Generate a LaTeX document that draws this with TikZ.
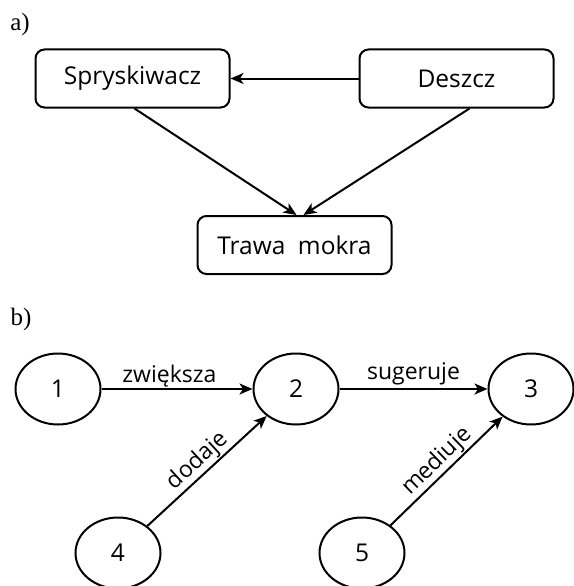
\documentclass[tikz,border=0pt]{standalone}
\usepackage{fontspec}
\setmainfont{Open Sans}
\newfontfamily\serifpart{Liberation Serif}
\usetikzlibrary{arrows.meta,shapes.geometric}
\begin{document}
\begin{tikzpicture}[x=1pt,y=-1pt,
  box/.style={draw,line width=2pt,rounded corners=9pt,minimum width=194pt,minimum height=58pt,inner sep=0pt,font=\fontsize{24.5}{26}\selectfont},
  ell/.style={draw,ellipse,line width=2pt,minimum width=85pt,minimum height=71pt,inner sep=0pt,font=\fontsize{24.5}{26}\selectfont},
  arr/.style={line width=2pt,-{Stealth[length=13pt,width=11pt,inset=3.5pt]}},
  lbl/.style={font=\fontsize{23}{25}\selectfont},
  part/.style={font=\serifpart\fontsize{25}{27}\selectfont}]
\useasboundingbox (0,0) rectangle (573,586);
\node[part] (pa) at (20,24) {a)};
\node[part] (pb) at (21,319) {b)};
\node[box] (spr) at (132.5,78.5) {Spryskiwacz};
\node[box] (desz) at (456.5,78.5) {Deszcz};
\node[box] (traw) at (294.5,245) {Trawa\hspace{0.25em} mokra};
\draw[arr] (desz) -- (spr);
\draw[arr] ([xshift=2pt]spr.south) -- ([xshift=2pt]traw.north);
\draw[arr] ([xshift=13pt]desz.south) -- ([xshift=9pt]traw.north);
\node[ell] (n1) at (58,389) {1};
\node[ell] (n2) at (296,389) {2};
\node[ell] (n3) at (531,389) {3};
\node[ell] (n4) at (118,553) {4};
\node[ell] (n5) at (362,553) {5};
\draw[arr] (n1) -- node[lbl,above,pos=0.45,inner sep=1pt] {zwiększa} (n2);
\draw[arr] (n2) -- node[lbl,above,inner sep=3pt] {sugeruje} (n3);
\draw[arr] (n4) -- node[lbl,above,sloped,inner sep=1pt] {dodaje} (n2);
\draw[arr] (n5) -- node[lbl,above,sloped,inner sep=1pt] {mediuje} (n3);
\end{tikzpicture}
\end{document}
